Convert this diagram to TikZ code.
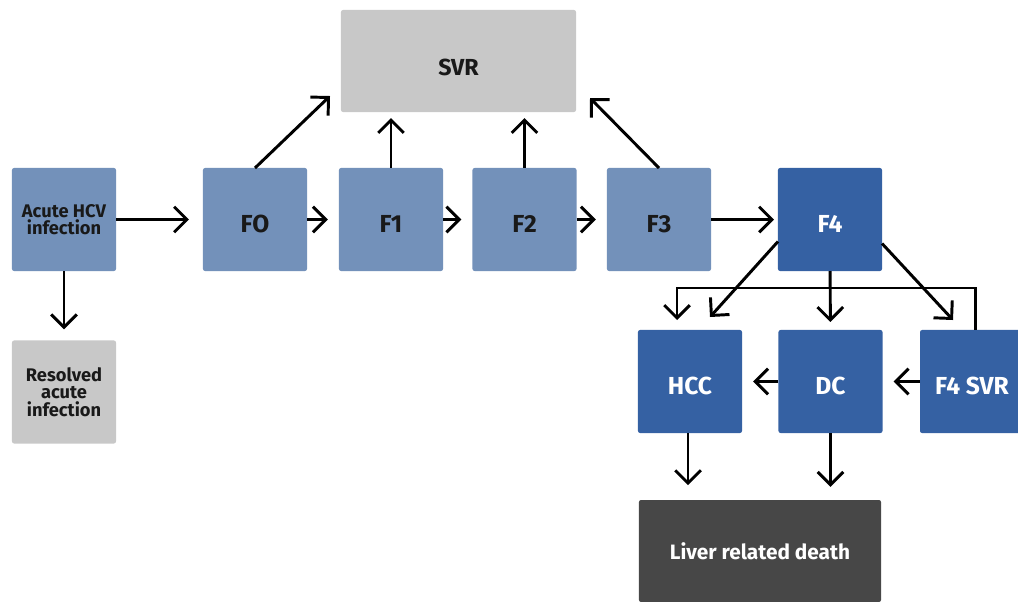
\documentclass[tikz,border=0pt]{standalone}
\usepackage{fontspec}
\setmainfont{Fira Sans}
\usetikzlibrary{arrows.meta}
\definecolor{stageblue}{HTML}{7391BA}
\definecolor{cirrblue}{HTML}{3561A3}
\definecolor{svrgray}{HTML}{C8C8C8}
\definecolor{deathgray}{HTML}{474747}
\begin{document}
\begin{tikzpicture}[x=0.025cm,y=-0.025cm,
    box/.style={rounded corners=1.5pt,outer sep=0pt,inner sep=1pt,align=center,
      minimum width=2.6cm,minimum height=2.575cm,
      font=\bfseries\fontsize{17.5}{19}\selectfont},
    stage/.style={box,fill=stageblue,text=black!90},
    cirr/.style={box,fill=cirrblue,text=white},
    low/.style={text height=18pt,text depth=0pt},
    small/.style={font=\bfseries\fontsize{13}{12.5}\selectfont},
    flow/.style={line width=2.1pt,-{Straight Barb[length=3.2mm,width=6.4mm]},shorten >=0.28cm}]
  \useasboundingbox (0,0) rectangle (1018,601);
  % nodes
  \draw
    (64,219.5) node[stage,small] (acute){Acute HCV\\infection}
    (64,392) node[box,small,fill=svrgray,text=black!90] (resolved){Resolved\\acute\\infection}
    (255,219.5) node[stage,low] (f0){FO}
    (391,219.5) node[stage,low] (f1){F1}
    (524.5,219.5) node[stage,low] (f2){F2}
    (659,219.5) node[stage,low] (f3){F3}
    (830,219.5) node[cirr,low] (f4){F4}
    (458.5,61) node[box,fill=svrgray,text=black!90,minimum width=5.875cm,minimum height=2.55cm,
      font=\bfseries\fontsize{16.5}{18}\selectfont,text height=20pt,text depth=0pt] (svr){SVR}
    (690,381.5) node[cirr,low] (hcc){HCC}
    (830.5,381.5) node[cirr,low] (dc){DC}
    (972,381.5) node[cirr,low] (f4svr){F4 SVR}
    (760,551) node[box,fill=deathgray,text=white,minimum width=6.05cm,minimum height=2.55cm,
      font=\bfseries\fontsize{14.8}{16}\selectfont] (death){Liver related death};
  % free ends
  \coordinate (svrleft) at (330,96);
  \coordinate (svrright) at (590,98);
  \coordinate (hccleft) at (677,330);
  \coordinate (bend) at (677,288);
  \coordinate (hccright) at (710,317);
  \coordinate (f4svrin) at (953,320);
  \begin{scope}[flow]
    \draw[shorten >=0.35cm] (acute) to (f0);
    \draw (acute) to (resolved);
    \draw (f0) to (f1);
    \draw (f1) to (f2);
    \draw (f2) to (f3);
    \draw[shorten >=0.1cm] (f3) to (f4);
    \draw[shorten >=0pt] (f0.north) to (svrleft);
    \draw[shorten >=0.15cm] (f1) to (f1 |- svr.south);
    \draw[shorten >=0.15cm] (f2) to (f2 |- svr.south);
    \draw[shorten >=0pt] (f3.north) to (svrright);
    \draw[shorten >=0pt] ([yshift=-0.55cm]f4.west) to (hccright);
    \draw[shorten >=0pt] ([yshift=-0.6cm]f4.east) to (f4svrin);
    \draw[shorten >=0.2cm] (f4) to (dc);
    \draw[shorten >=0.25cm] ([xshift=0.08cm]f4svr.north) |- (bend) -- (hccleft);
    \draw (dc) to (hcc);
    \draw (f4svr) to (dc);
    \draw[shorten >=0.37cm] ([xshift=-0.05cm]hcc.south) to ([xshift=-0.05cm]hcc.south |- death.north);
    \draw[shorten >=0.33cm] (dc) to (dc |- death.north);
  \end{scope}
\end{tikzpicture}
\end{document}
